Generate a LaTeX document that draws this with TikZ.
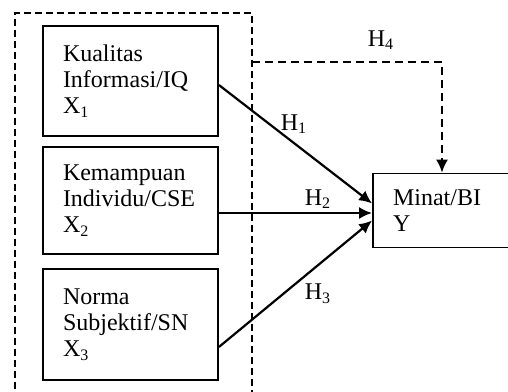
\documentclass[tikz,border=0pt]{standalone}
\usepackage{fontspec}
\setmainfont{Liberation Serif}
\usetikzlibrary{arrows.meta}
\tikzset{
  varbox/.style={draw, line width=0.9pt, rectangle, align=left, inner xsep=10pt, inner ysep=0pt,
    font=\fontsize{12}{13}\selectfont},
  leftbox/.style={varbox, minimum width=87.5pt, text width=67.5pt},
  link/.style={line width=1.1pt, -{Latex[length=6.5pt,width=6pt]}},
  frame/.style={line width=0.8pt, dash pattern=on 3.5pt off 2pt},
  hlabel/.style={font=\fontsize{12}{13}\selectfont, inner sep=0pt}
}
\begin{document}
\begin{tikzpicture}[x=0.5pt,y=-0.5pt]
\useasboundingbox (0,0) rectangle (508,391);
\clip (0,0) rectangle (508,391);
\fill[white] (0,0) rectangle (508,391);
% outer dashed frame (open at bottom)
\coordinate (fl) at (15,400);
\coordinate (ftl) at (15,13);
\coordinate (ftr) at (252,13);
\coordinate (fr) at (252,400);
\draw[frame] (fl) -- (ftl) -- (ftr) -- (fr);
% boxes
\node[leftbox, minimum height=55pt] (b1) at (130.5,81) {Kualitas\\Informasi/IQ\\X\textsubscript{1}};
\node[leftbox, minimum height=53.5pt] (b2) at (130.5,200.5) {Kemampuan\\Individu/CSE\\X\textsubscript{2}};
\node[leftbox, minimum height=55.5pt] (b3) at (130.5,324.5) {Norma\\Subjektif/SN\\X\textsubscript{3}};
\node[varbox, minimum width=75pt, text width=55pt, minimum height=37pt] (m) at (448,210.5) {Minat/BI\\Y};
% links
\draw[link] ([yshift=-2pt]b1.east) -- ([yshift=3.5pt]m.west);
\draw[link] ([yshift=-6.25pt]b2.east) -- ([yshift=-1.25pt]m.west);
\draw[link] ([yshift=-11.25pt]b3.east) -- ([yshift=-5pt]m.west);
% H4 dashed
\coordinate (h4s) at (252,62);
\draw[frame, line width=0.9pt, -{Latex[length=6.5pt,width=6pt]}, dash pattern=on 4pt off 2.5pt] (h4s) -| ([xshift=-3pt]m.north);
% labels
\node[hlabel] (h1) at (294,124) {H\textsubscript{1}};
\node[hlabel] (h2) at (318,199) {H\textsubscript{2}};
\node[hlabel] (h3) at (318,294) {H\textsubscript{3}};
\node[hlabel] (h4) at (381,40) {H\textsubscript{4}};
\end{tikzpicture}
\end{document}
